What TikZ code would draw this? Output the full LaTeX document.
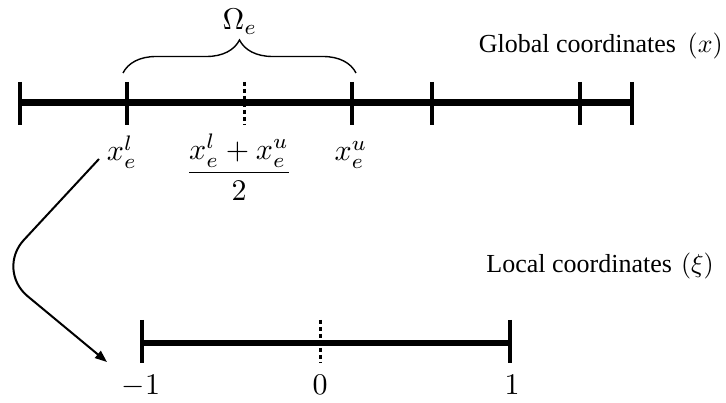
\documentclass[tikz,border=0pt]{standalone}
\usepackage{fontspec}
\setmainfont{Liberation Serif}
\usetikzlibrary{decorations.pathreplacing,arrows.meta}
\newcommand{\mlbl}[1]{\scalebox{3.0}{$#1$}}
\newcommand{\tlbl}[1]{\scalebox{2.6}{#1}}
\begin{document}
\begin{tikzpicture}[x=1pt,y=-1pt,
  axisline/.style={line width=7pt},
  tickmark/.style={line width=4.5pt},
  midtick/.style={line width=3pt, dash pattern=on 4pt off 3pt},
  lbl/.style={inner sep=0pt},
  bracestyle/.style={line width=1.4pt, decorate, decoration={brace, amplitude=33pt}},
  maparrow/.style={line width=2pt, -{Triangle[length=12pt,width=9pt]}, rounded corners=41pt},
]
\useasboundingbox (0,0) rectangle (726,403);

% global axis
\coordinate (gL) at (20,103);
\coordinate (gR) at (632,103);
\draw[axisline] (gL) -- (gR);
\foreach \n/\x in {a/20,b/127,c/352,d/432,e/580,f/632} {
  \coordinate (\n1) at (\x,82);
  \coordinate (\n2) at (\x,125);
  \draw[tickmark] (\n1) -- (\n2);
}
\coordinate (gm1) at (244,82);
\coordinate (gm2) at (244,125);
\draw[midtick] (gm1) -- (gm2);

% brace
\coordinate (br1) at (123,73);
\coordinate (br2) at (356,73);
\draw[bracestyle] (br1) -- (br2);
\node[lbl] (om) at (240,22) {\mlbl{\Omega_e}};

\node[lbl, anchor=base east] (gl) at (723,53) {\tlbl{Global coordinates\hspace{0.45em}$(x)$}};

% labels
\node[lbl, anchor=base] (xl) at (122,161) {\mlbl{x_e^l}};
\node[lbl, anchor=base] (xm) at (239,180) {\mlbl{\displaystyle\frac{x_e^l+x_e^u}{2}}};
\node[lbl, anchor=base] (xu) at (351,161) {\mlbl{x_e^u}};

% local axis
\node[lbl, anchor=base east] (lc) at (714,273) {\tlbl{Local coordinates\hspace{0.35em}$(\xi)$}};
\coordinate (lL) at (142,343);
\coordinate (lR) at (510,343);
\draw[line width=6pt] (lL) -- (lR);
\foreach \n/\x in {p/142,q/510} {
  \coordinate (\n1) at (\x,320);
  \coordinate (\n2) at (\x,363);
  \draw[tickmark] (\n1) -- (\n2);
}
\coordinate (lm1) at (320,320);
\coordinate (lm2) at (320,363);
\draw[midtick] (lm1) -- (lm2);

\node[lbl, anchor=base] (m1) at (141,395) {\mlbl{-1}};
\node[lbl, anchor=base] (z0) at (320,395) {\mlbl{0}};
\node[lbl, anchor=base] (p1) at (512,395) {\mlbl{1}};

% mapping arrow
\coordinate (as) at (99,159);
\coordinate (ae) at (107,362);
\draw[maparrow] (as) -- (-4,270) -- (ae);
\end{tikzpicture}
\end{document}
